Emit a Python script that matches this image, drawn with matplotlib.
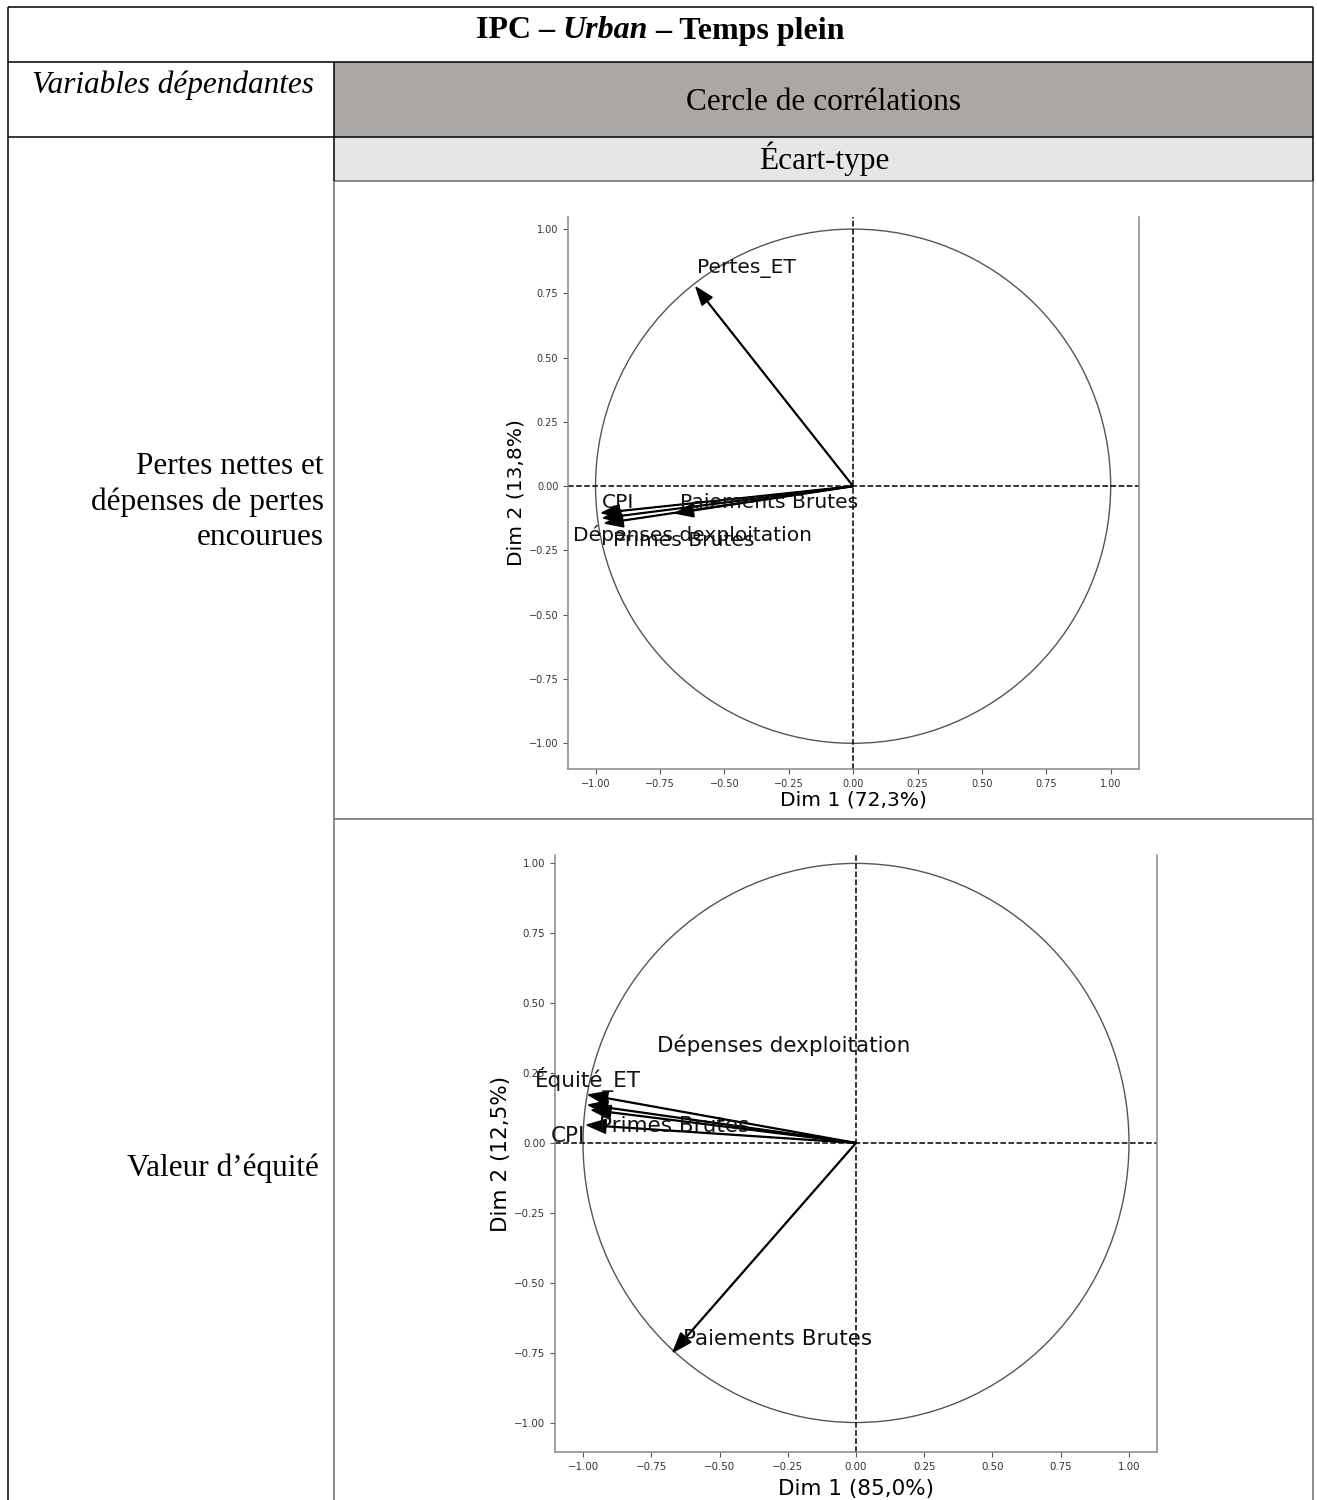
import numpy as np
import matplotlib.pyplot as plt
from matplotlib.patches import Rectangle, Circle

# ---- data ----
title_parts = ['IPC – ', 'Urban', ' – Temps plein']
header_left = 'Variables dépendantes'
header_right = 'Cercle de corrélations'
sub_header = 'Écart-type'
row_labels = ['Pertes nettes et\ndépenses de pertes\nencourues', 'Valeur d’équité']

# plot 1 : Pertes nettes
vars1 = ['Pertes_ET', 'CPI', 'Paiements Brutes', 'Dépenses dexploitation', 'Primes Brutes']
dim1_1 = [-0.61, -0.976, -0.69, -0.970, -0.963]
dim2_1 = [0.774, -0.104, -0.105, -0.124, -0.144]
lab_x1 = [-0.606, -0.977, -0.672, -1.087, -0.932]
lab_y1 = [0.848, -0.065, -0.065, -0.19, -0.21]
xlabel1 = 'Dim 1 (72,3%)'
ylabel1 = 'Dim 2 (13,8%)'

# plot 2 : Valeur d'équité
vars2 = ['Équité_ET', 'Dépenses dexploitation', 'Primes Brutes', 'CPI', 'Paiements Brutes']
dim1_2 = [-0.98, -0.98, -0.968, -0.986, -0.67]
dim2_2 = [0.172, 0.136, 0.118, 0.064, -0.748]
lab_x2 = [-1.176, -0.729, -0.94, -1.117, -0.634]
lab_y2 = [0.226, 0.351, 0.061, 0.025, -0.701]
xlabel2 = 'Dim 1 (85,0%)'
ylabel2 = 'Dim 2 (12,5%)'

ticks = np.arange(-1.0, 1.01, 0.25)

W, H = 1317, 1500
fig = plt.figure(figsize=(W / 100, H / 100), dpi=100)

# ---- table frame drawn in pixel coordinates ----
bg = fig.add_axes([0, 0, 1, 1])
bg.set_xlim(0, W)
bg.set_ylim(H, 0)
bg.axis('off')

serif = 'Liberation Serif'
dark = '#6b6b6b'
fs = 22.5

bg.add_patch(Rectangle((334, 62), 1313 - 334, 75, color='#aba7a4', lw=0))
bg.add_patch(Rectangle((334, 137), 1313 - 334, 44, color='#e6e6e6', lw=0))

def hline(y, x0, x1, c='k', lw=1.1):
    bg.plot([x0, x1], [y, y], color=c, lw=lw, solid_capstyle='butt')

def vline(x, y0, y1, c='k', lw=1.1):
    bg.plot([x, x], [y0, y1], color=c, lw=lw, solid_capstyle='butt')

hline(7, 8, 1313)
hline(62, 8, 1313)
hline(137, 8, 1313)
hline(181, 334, 1313, c=dark)
hline(819, 334, 1313, c=dark)
vline(8, 7, H)
vline(1313, 7, 181)
vline(1313, 181, H, c=dark)
vline(334, 62, 181)
vline(334, 181, H, c=dark)

# title with an italic middle part, centred as a whole
fig.canvas.draw()
r = fig.canvas.get_renderer()
styles = ['normal', 'italic', 'normal']
pieces = []
for txt, st in zip(title_parts, styles):
    pieces.append(fig.text(0, 1 - 31 / H, txt, fontsize=23, fontweight='bold', style=st,
                           family=serif, ha='left', va='center'))
widths = [p.get_window_extent(r).width for p in pieces]
x0 = 660 - sum(widths) / 2
for p, w in zip(pieces, widths):
    p.set_x(x0 / W)
    x0 += w

bg.text(32, 85, header_left, fontsize=fs, style='italic', family=serif, ha='left', va='center')
bg.text(824, 103, header_right, fontsize=fs, family=serif, ha='center', va='center')
bg.text(824, 159, sub_header, fontsize=fs, family=serif, ha='center', va='center')
bg.text(324, 502, row_labels[0], fontsize=fs, family=serif, ha='right', va='center',
        multialignment='right', linespacing=1.3)
bg.text(319, 1168, row_labels[1], fontsize=fs, family=serif, ha='right', va='center')


def minus_fmt(v, pos):
    return ('%.2f' % v).replace('-', '\u2212')


def circle_plot(rect, xlim, ylim, xs, ys, names, lx, ly, xlab, ylab, scale, xpad):
    ax = fig.add_axes(rect)
    ax.set_xlim(*xlim)
    ax.set_ylim(*ylim)
    ax.add_patch(Circle((0, 0), 1, fill=False, color='#555555', lw=1.0))
    ax.axhline(0, color='k', ls='--', lw=1.1)
    ax.axvline(0, color='k', ls='--', lw=1.1)
    for x, y in zip(xs, ys):
        ax.arrow(0, 0, x, y, width=0.003, head_width=0.05, head_length=0.07,
                 length_includes_head=True, color='k')
    for name, x, y in zip(names, lx, ly):
        ax.text(x, y, name, fontsize=14.6 * scale, ha='left', va='center', color='#111111')
    ax.set_xticks(ticks)
    ax.set_yticks(ticks)
    ax.xaxis.set_major_formatter(plt.FuncFormatter(minus_fmt))
    ax.yaxis.set_major_formatter(plt.FuncFormatter(minus_fmt))
    ax.tick_params(labelsize=7 * scale, colors='#555555', labelcolor='#333333', length=3.5)
    ax.set_xlabel(xlab, fontsize=14.6 * scale, labelpad=xpad)
    ax.set_ylabel(ylab, fontsize=14.6 * scale, labelpad=2)
    ax.spines['top'].set_visible(False)
    for s in ['left', 'right', 'bottom']:
        ax.spines[s].set_color('#888888')
        ax.spines[s].set_linewidth(1.1)
    return ax


def to_rect(l, r, t, b):
    return [l / W, 1 - b / H, (r - l) / W, (b - t) / H]


circle_plot(to_rect(568, 1139, 217, 769), (-1.107, 1.11), (-1.10, 1.047),
            dim1_1, dim2_1, vars1, lab_x1, lab_y1, xlabel1, ylabel1, 1.0, 1.5)
circle_plot(to_rect(555, 1157, 855, 1452), (-1.1026, 1.1026), (-1.1055, 1.03),
            dim1_2, dim2_2, vars2, lab_x2, lab_y2, xlabel2, ylabel2, 1.06, 5)

fig.savefig('out.png', dpi=100)
